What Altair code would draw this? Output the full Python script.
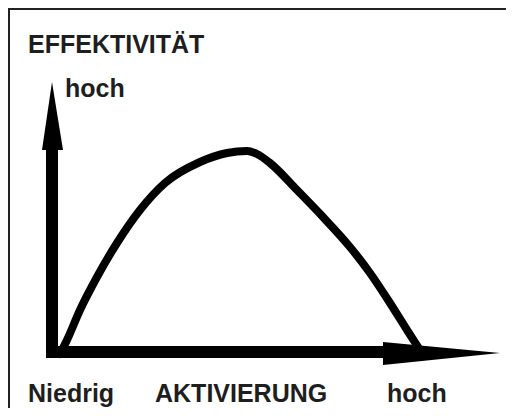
import altair as alt
import pandas as pd

# Curve: effectiveness vs activation (inverted U)
curve_x = [8, 15, 28, 45, 65, 88, 113, 148, 175, 195, 205, 218, 245, 271, 298, 318, 338, 355, 366]
curve_y = [-2, 12, 42, 75, 109, 142, 169, 190, 199, 201, 198, 189, 162, 135, 105, 79, 49, 22, 5]

# Axis arrows: shafts (start -> end) and heads
shaft_x = [0, -5]
shaft_x2 = [0, 332]
shaft_y = [-6, 0]
shaft_y2 = [203, 0]
v_head_y = [202, 270]
v_head_left = [-10, 0]
v_head_right = [11, 0]
h_head_x = [331, 448]
h_head_top = [10, -1]
h_head_bottom = [-13, -1]

# Text labels
labels = ["EFFEKTIVITÄT", "hoch", "Niedrig", "AKTIVIERUNG", "hoch"]
label_x = [-24, 13, -24, 103, 335]
label_y = [299, 255, -50, -50, -50]

X = alt.Scale(domain=[-44, 454], nice=False, zero=False)
Y = alt.Scale(domain=[-56, 344], nice=False, zero=False)

curve_df = pd.DataFrame({"x": curve_x, "y": curve_y})
shaft_df = pd.DataFrame({"x": shaft_x, "x2": shaft_x2, "y": shaft_y, "y2": shaft_y2})
vhead_df = pd.DataFrame({"y": v_head_y, "x": v_head_left, "x2": v_head_right})
hhead_df = pd.DataFrame({"x": h_head_x, "y": h_head_top, "y2": h_head_bottom})
label_df = pd.DataFrame({"t": labels, "x": label_x, "y": label_y})
one = pd.DataFrame({"a": [0]})

frame_left = alt.Chart(one).mark_rule(color="#222", strokeWidth=2).encode(
    x=alt.value(1), y=alt.value(0), y2=alt.value(400))
frame_top = alt.Chart(one).mark_rule(color="#222", strokeWidth=2).encode(
    x=alt.value(0), x2=alt.value(498), y=alt.value(1))

shafts = alt.Chart(shaft_df).mark_rule(color="black", strokeWidth=12, strokeCap="butt").encode(
    x=alt.X("x:Q", scale=X, axis=None), x2="x2:Q",
    y=alt.Y("y:Q", scale=Y, axis=None), y2="y2:Q",
)

v_head = alt.Chart(vhead_df).mark_area(color="black", orient="horizontal").encode(
    y=alt.Y("y:Q", scale=Y, axis=None),
    x=alt.X("x:Q", scale=X, axis=None),
    x2="x2:Q",
)
h_head = alt.Chart(hhead_df).mark_area(color="black", orient="vertical").encode(
    x=alt.X("x:Q", scale=X, axis=None),
    y=alt.Y("y:Q", scale=Y, axis=None),
    y2="y2:Q",
)

curve = alt.Chart(curve_df).mark_line(
    color="black", strokeWidth=8, strokeCap="round", strokeJoin="round", interpolate="monotone"
).encode(
    x=alt.X("x:Q", scale=X, axis=None),
    y=alt.Y("y:Q", scale=Y, axis=None),
)

text = alt.Chart(label_df).mark_text(
    align="left", baseline="alphabetic", font="Liberation Sans", fontWeight="bold",
    fontSize=25, color="#1e1e1e"
).encode(
    x=alt.X("x:Q", scale=X, axis=None),
    y=alt.Y("y:Q", scale=Y, axis=None),
    text="t:N",
)

chart = alt.layer(
    frame_left, frame_top, shafts, curve, v_head, h_head, text
).properties(
    width=498, height=400, padding=0, autosize=alt.AutoSizeParams(type="none"),
    background="white",
).configure_view(stroke=None)

chart.save("out.html", embed_options={"renderer": "svg", "actions": False})
